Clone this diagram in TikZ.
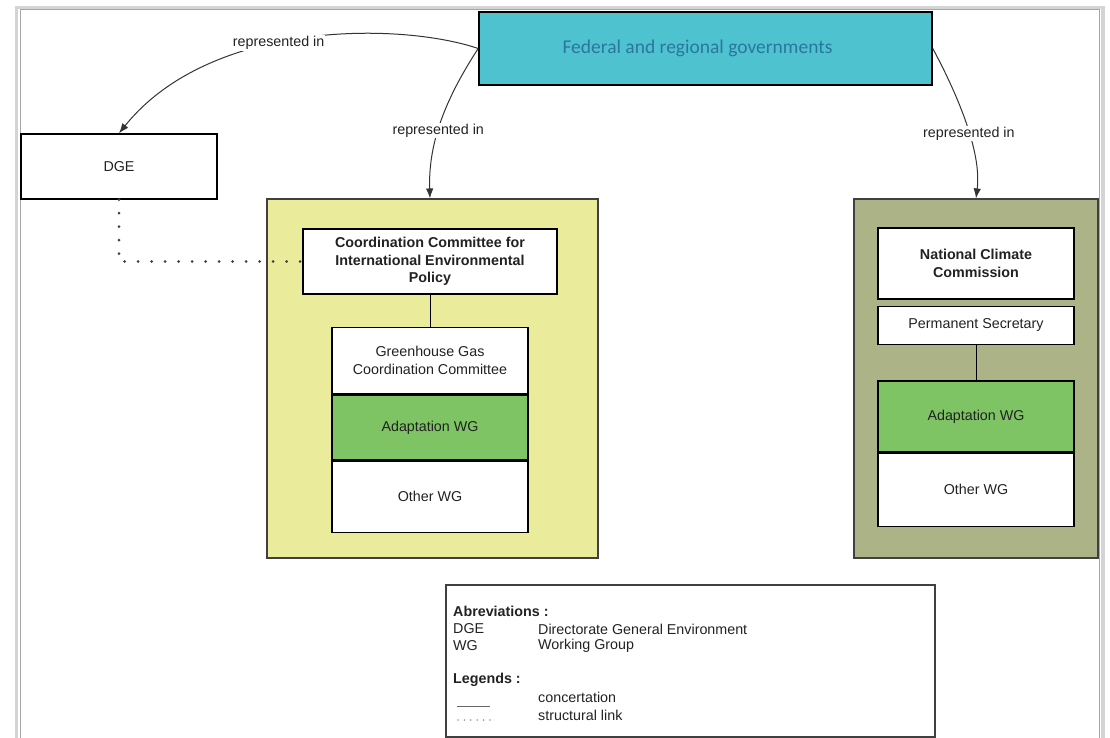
\documentclass[tikz,border=0pt]{standalone}
\usepackage{fontspec}
\setmainfont{Liberation Sans}
\newfontfamily\calibrifont{Carlito}
\usepackage{tikz}
\usetikzlibrary{positioning,arrows.meta}
\definecolor{govcyan}{HTML}{4EC3CF}
\definecolor{govtext}{HTML}{2A76A0}
\definecolor{ccyellow}{HTML}{EBEC9B}
\definecolor{nccolive}{HTML}{ABB387}
\definecolor{wggreen}{HTML}{7EC464}
\definecolor{txtdark}{HTML}{222222}
\definecolor{framegray}{HTML}{D4D4D4}

\begin{document}
\begin{tikzpicture}[
    x=1pt, y=-1pt,
    box/.style={rectangle, draw=black, line width=1.4pt, fill=white, align=center, inner sep=2pt, text=txtdark, font=\fontsize{14.3}{17.5}\selectfont},
    panel/.style={rectangle, draw=black!75, line width=1.1pt, minimum height=359pt},
    rep/.style={-{Latex[length=10pt,width=7.5pt]}, line width=1pt, draw=black!80},
    replabel/.style={fill=white, inner sep=1pt, text=txtdark, font=\fontsize{14.3}{17}\selectfont},
    structural/.style={line width=3pt, line cap=round, dash pattern=on 0pt off 13.5pt, draw=black!75},
    legtext/.style={anchor=west, inner sep=0pt, text=txtdark, font=\fontsize{14.3}{17}\selectfont}
]
    \clip (0,0) rectangle (1110,738);
    \useasboundingbox (0,0) rectangle (1110,738);

    % Page frame
    \draw[framegray, line width=3.5pt] (16.5,7.5) rectangle (1103,800);
    \draw[black!35, line width=1pt] (20,10) rectangle (1099.5,800);

    % Governments
    \node[box, fill=govcyan, line width=1.6pt, minimum width=453pt, minimum height=73pt,
          text=govtext, font=\calibrifont\fontsize{19.5}{22}\selectfont] (fed) at (705.5,48.5) {\hspace*{-16pt}Federal and regional governments};

    % DGE
    \node[box, minimum width=196pt, minimum height=65pt] (dge) at (119,166.5) {DGE};

    % Coordination Committee panel
    \node[panel, fill=ccyellow, minimum width=331pt] (ccpanel) at (432.5,378.5) {};
    \node[box, minimum width=254pt, minimum height=65pt, font=\bfseries\fontsize{14.3}{17.5}\selectfont] (ccie) at (430,261.5)
        {Coordination Committee for\\International Environmental\\Policy};
    \node[box, minimum width=196pt, minimum height=66pt, below=32pt of ccie] (ghg) {Greenhouse Gas\\Coordination Committee};
    \node[box, fill=wggreen, minimum width=196pt, minimum height=65pt, below=0pt of ghg] (adaptL) {Adaptation WG};
    \node[box, minimum width=196pt, minimum height=71pt, below=0pt of adaptL] (otherL) {Other WG};

    % National Climate Commission panel
    \node[panel, fill=nccolive, minimum width=244pt] (nccpanel) at (976,378.5) {};
    \node[box, minimum width=196pt, minimum height=71pt, font=\bfseries\fontsize{14.3}{17.5}\selectfont] (ncc) at (976,263.5)
        {National Climate\\Commission};
    \node[box, minimum width=196pt, minimum height=38pt, below=6pt of ncc] (perm) {Permanent Secretary};
    \node[box, fill=wggreen, minimum width=196pt, minimum height=71pt, below=35pt of perm] (adaptR) {Adaptation WG};
    \node[box, minimum width=196pt, minimum height=73pt, below=0pt of adaptR] (otherR) {Other WG};

    % Legend
    \node[rectangle, draw=black!75, line width=1.4pt, minimum width=489pt, minimum height=152pt] (legend) at (690.5,661) {};
    \node[legtext] (abbr) at (453,611) {\bfseries Abreviations :};
    \node[legtext] (abdge) at (453,629) {DGE};
    \node[legtext] (abwg) at (453,646) {WG};
    \node[legtext] (abdgetxt) at (538,629) {Directorate General Environment};
    \node[legtext] (abwgtxt) at (538,646) {Working Group};
    \node[legtext] (legs) at (453,680) {\bfseries Legends :};
    \node[legtext] (concert) at (538,697) {concertation};
    \node[legtext] (struct) at (538,715) {structural link};
    \coordinate (solidA) at (457,706);
    \coordinate (solidB) at (490,706);
    \coordinate (dotA) at (458,720);
    \coordinate (dotB) at (490,720);

    % Connections
    \draw[rep] (fed.west) .. controls (400,22) and (210,20) .. node[replabel, pos=0.56] {represented in} (dge.north);
    \draw[rep] (fed.west) .. controls (448,95) and (428,140) .. node[replabel, pos=0.58] {represented in} (ccie.north |- ccpanel.north);
    \draw[rep] (fed.east) .. controls (955,90) and (982,150) .. node[replabel, pos=0.58] {represented in} (ncc.north |- nccpanel.north);
    \draw[structural] (dge.south) |- (ccie.west);
    \draw[line width=1pt] (ccie) -- (ghg);
    \draw[line width=1pt] (perm) -- (adaptR);
    \draw[line width=0.9pt, black!60] (solidA) -- (solidB);
    \draw[line width=1.8pt, black!40, line cap=round, dash pattern=on 0pt off 6.4pt] (dotA) -- (dotB);
\end{tikzpicture}
\end{document}
